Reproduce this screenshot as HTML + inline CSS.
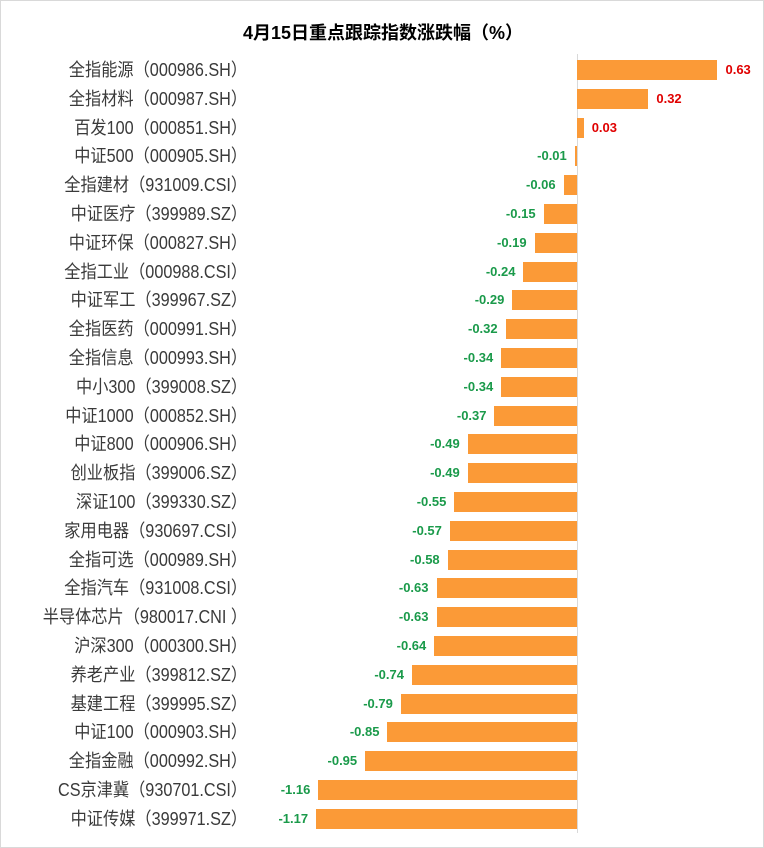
<!DOCTYPE html>
<html><head><meta charset="utf-8"><style>
body{margin:0;background:#fff;}
#c{position:relative;width:762px;height:846px;border:1px solid #d9d9d9;background:#fff;overflow:hidden;font-family:"Liberation Sans","Noto Sans CJK SC",sans-serif;}
.t{position:absolute;left:0;width:764px;top:18px;text-align:center;font-size:18px;font-weight:bold;color:#000;}
.l{position:absolute;right:516px;font-size:18px;color:#3a3a3a;white-space:nowrap;line-height:20px;transform:scaleX(0.9);transform-origin:right center;}
.b{position:absolute;height:20px;background:#fb9a37;}
.v{position:absolute;font-size:13px;font-weight:bold;line-height:20px;white-space:nowrap;}
.ax{position:absolute;left:576px;top:53px;width:1px;height:779px;background:#d9d9d9;}
</style></head><body><div id="c">
<div class="t">4月15日重点跟踪指数涨跌幅（%）</div>
<div class="ax"></div>
<div id="r"></div>
</div>
<script>
var d=[["全指能源（000986.SH）",0.63],["全指材料（000987.SH）",0.32],["百发100（000851.SH）",0.03],["中证500（000905.SH）",-0.01],["全指建材（931009.CSI）",-0.06],["中证医疗（399989.SZ）",-0.15],["中证环保（000827.SH）",-0.19],["全指工业（000988.CSI）",-0.24],["中证军工（399967.SZ）",-0.29],["全指医药（000991.SH）",-0.32],["全指信息（000993.SH）",-0.34],["中小300（399008.SZ）",-0.34],["中证1000（000852.SH）",-0.37],["中证800（000906.SH）",-0.49],["创业板指（399006.SZ）",-0.49],["深证100（399330.SZ）",-0.55],["家用电器（930697.CSI）",-0.57],["全指可选（000989.SH）",-0.58],["全指汽车（931008.CSI）",-0.63],["半导体芯片（980017.CNI ）",-0.63],["沪深300（000300.SH）",-0.64],["养老产业（399812.SZ）",-0.74],["基建工程（399995.SZ）",-0.79],["中证100（000903.SH）",-0.85],["全指金融（000992.SH）",-0.95],["CS京津冀（930701.CSI）",-1.16],["中证传媒（399971.SZ）",-1.17]];
var h="",z=576,s=223;
d.forEach(function(e,i){var y=59+i*28.8,w=Math.max(Math.abs(e[1])*s,2);
h+='<div class="l" style="top:'+y+'px">'+e[0]+'</div>';
if(e[1]>=0){h+='<div class="b" style="top:'+y+'px;left:'+z+'px;width:'+w+'px"></div><div class="v" style="top:'+y+'px;left:'+(z+w+8)+'px;color:#e00000">'+e[1].toFixed(2)+'</div>';}
else{h+='<div class="b" style="top:'+y+'px;left:'+(z-w)+'px;width:'+w+'px"></div><div class="v" style="top:'+y+'px;right:'+(764-(z-w)+6)+'px;color:#1a9a4a">'+e[1].toFixed(2)+'</div>';}
});
document.getElementById("r").outerHTML=h;
</script>
</body></html>
